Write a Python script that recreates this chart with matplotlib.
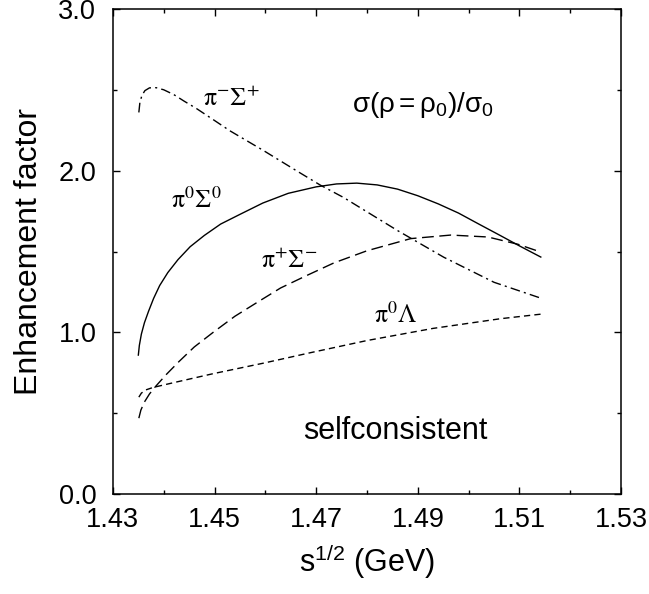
import matplotlib
matplotlib.use("Agg")
import matplotlib.pyplot as plt
from matplotlib.ticker import MultipleLocator

plt.rcParams['font.family'] = ['Liberation Sans', 'DejaVu Sans']
plt.rcParams['mathtext.fontset'] = 'custom'
plt.rcParams['mathtext.rm'] = 'Liberation Sans'
plt.rcParams['mathtext.it'] = 'Liberation Sans'

# pi0 Sigma0 (solid)
x_p0s0 = [1.4350, 1.4352, 1.4356, 1.4362, 1.4370, 1.4380, 1.4392, 1.4408, 1.4428,
          1.4452, 1.4480, 1.4512, 1.4550, 1.4595, 1.4645, 1.4700, 1.4740, 1.4780,
          1.4820, 1.4860, 1.4900, 1.4940, 1.4980, 1.5020, 1.5060, 1.5100, 1.5142]
y_p0s0 = [0.86, 0.92, 0.99, 1.06, 1.13, 1.21, 1.29, 1.37, 1.45,
          1.53, 1.60, 1.67, 1.73, 1.80, 1.86, 1.90, 1.918, 1.923,
          1.912, 1.886, 1.845, 1.795, 1.738, 1.670, 1.603, 1.535, 1.466]

# pi+ Sigma- (long dash)
x_ppsm = [1.4351, 1.4355, 1.4362, 1.4372, 1.4385, 1.4405, 1.4430, 1.4460, 1.4497,
          1.4540, 1.4586, 1.4630, 1.4680, 1.4735, 1.4800, 1.4886, 1.4965, 1.5038,
          1.5097, 1.5142]
y_ppsm = [0.47, 0.52, 0.57, 0.62, 0.67, 0.74, 0.82, 0.91, 1.00,
          1.10, 1.19, 1.275, 1.35, 1.43, 1.505, 1.58, 1.602, 1.590,
          1.545, 1.497]

# pi0 Lambda (short dash)
x_p0l = [1.4351, 1.4356, 1.4365, 1.4379, 1.4420, 1.4497, 1.4596, 1.4689, 1.4800,
         1.4930, 1.5063, 1.5142]
y_p0l = [0.60, 0.625, 0.645, 0.660, 0.690, 0.745, 0.810, 0.875, 0.950,
         1.025, 1.085, 1.113]

# pi- Sigma+ (dash-dot)
x_pmsp = [1.4351, 1.4353, 1.4357, 1.4363, 1.4372, 1.4385, 1.4400, 1.4420, 1.4440,
          1.4464, 1.4500, 1.4531, 1.4596, 1.4661, 1.4708, 1.4754, 1.4860, 1.4951,
          1.5050, 1.5142]
y_pmsp = [2.36, 2.42, 2.465, 2.495, 2.512, 2.513, 2.500, 2.470, 2.430,
          2.385, 2.310, 2.245, 2.125, 2.000, 1.911, 1.834, 1.630, 1.465,
          1.310, 1.212]

x_ticks = [1.43, 1.45, 1.47, 1.49, 1.51, 1.53]
y_ticks = [0.0, 1.0, 2.0, 3.0]

fig = plt.figure(figsize=(6.49, 5.94), dpi=100)
ax = fig.add_axes([0.174, 0.168, 0.783, 0.817])

ax.plot(x_p0s0, y_p0s0, color='black', lw=1.0, ls='-')
ax.plot(x_ppsm, y_ppsm, color='black', lw=1.0, dashes=(8.5, 4))
ax.plot(x_p0l, y_p0l, color='black', lw=1.0, dashes=(4.5, 3))
ax.plot(x_pmsp, y_pmsp, color='black', lw=1.0, dashes=(7, 3, 1.5, 3))

ax.set_xlim(1.43, 1.53)
ax.set_ylim(0.0, 3.0)
ax.set_xticks(x_ticks)
ax.set_xticklabels([f'{v:.2f}' for v in x_ticks])
ax.set_yticks(y_ticks)
ax.set_yticklabels([f'{v:.1f}' for v in y_ticks])
ax.xaxis.set_minor_locator(MultipleLocator(0.01))
ax.yaxis.set_minor_locator(MultipleLocator(0.5))
ax.tick_params(which='both', direction='in', top=True, right=True, width=1.0)
ax.tick_params(which='major', length=5, labelsize=19.5)
ax.tick_params(which='minor', length=3)
ax.tick_params(axis='x', which='major', pad=9)
ax.tick_params(axis='y', which='major', pad=12)
for s in ax.spines.values():
    s.set_linewidth(1.1)

ax.set_xlabel(r'$\mathrm{s^{1/2}}$ (GeV)', fontsize=22, labelpad=7)
ax.set_ylabel('Enhancement factor', fontsize=23, labelpad=10)

serif = dict(fontsize=18.5, math_fontfamily='stix', va='baseline', ha='left')
ax.text(1.4478, 2.40, r'$\mathrm{π^{-}Σ^{+}}$', **serif)
ax.text(1.4414, 1.77, r'$\mathrm{π^{0}Σ^{0}}$', **serif)
ax.text(1.4592, 1.40, r'$\mathrm{π^{+}Σ^{-}}$', **serif)
ax.text(1.4813, 1.057, r'$\mathrm{π^{0}Λ}$', **serif)

ax.text(1.4770, 2.36, r'$\mathrm{σ(ρ=ρ_0)/σ_0}$', fontsize=20, va='baseline', ha='left')
ax.text(1.4675, 0.34, 'selfconsistent', fontsize=22, va='baseline', ha='left')

fig.savefig('out.png', dpi=100)
